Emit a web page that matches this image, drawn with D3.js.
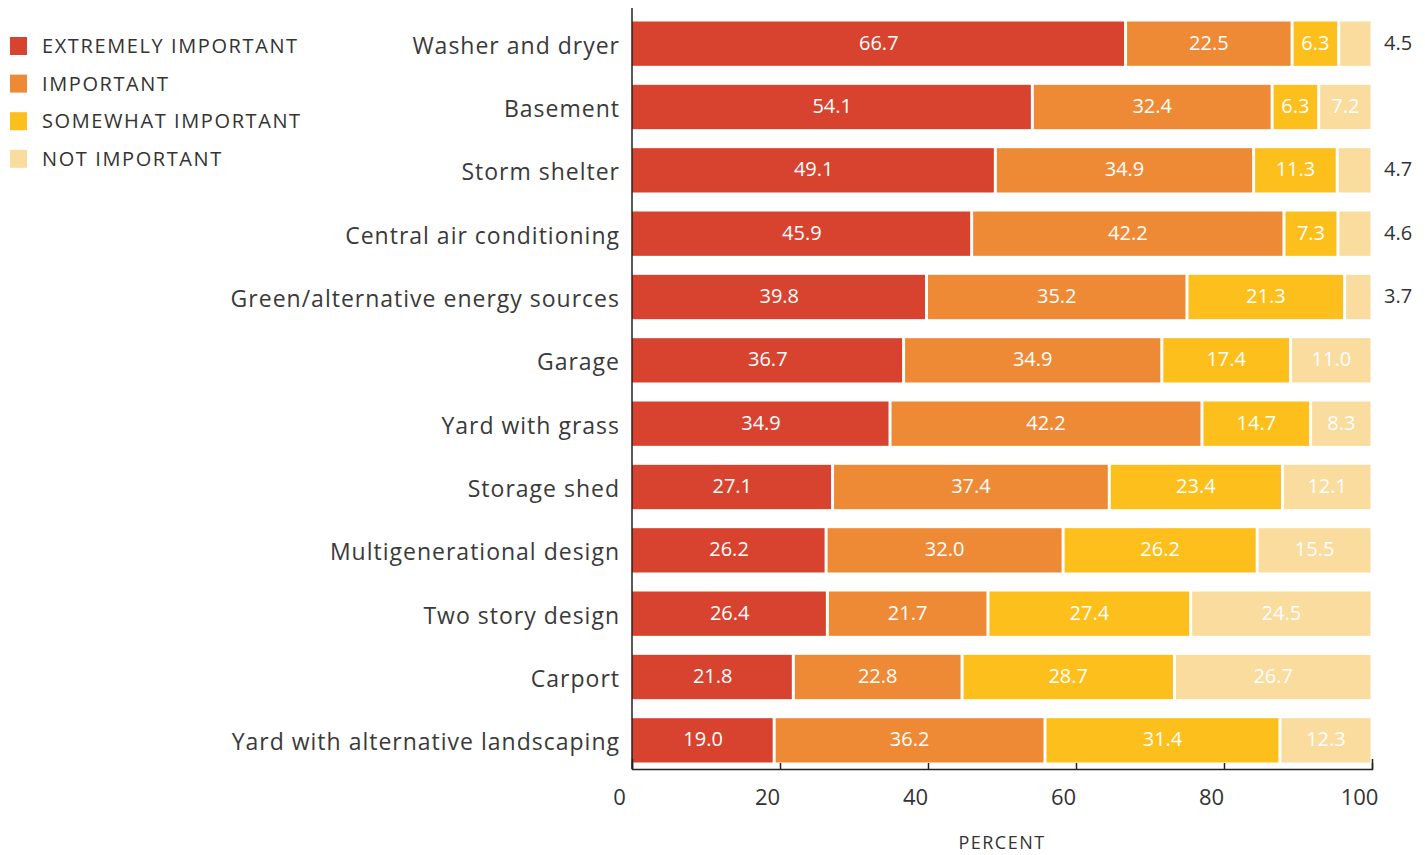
<!DOCTYPE html>
<html>
<head>
<meta charset="utf-8">
<script src="https://cdn.jsdelivr.net/npm/d3@7"></script>
<style>
  html, body { margin: 0; padding: 0; background: #ffffff; }
  svg { display: block; font-family: "Open Sans", "Noto Sans", sans-serif; }
</style>
</head>
<body>
<svg id="chart"></svg>
<script>
// ── data ────────────────────────────────────────────────────────────────────
const categories = [
  "Washer and dryer", "Basement", "Storm shelter", "Central air conditioning",
  "Green/alternative energy sources", "Garage", "Yard with grass", "Storage shed",
  "Multigenerational design", "Two story design", "Carport", "Yard with alternative landscaping"
];
const seriesNames = ["EXTREMELY IMPORTANT", "IMPORTANT", "SOMEWHAT IMPORTANT", "NOT IMPORTANT"];
const extremelyImportant = [66.7, 54.1, 49.1, 45.9, 39.8, 36.7, 34.9, 27.1, 26.2, 26.4, 21.8, 19.0];
const important          = [22.5, 32.4, 34.9, 42.2, 35.2, 34.9, 42.2, 37.4, 32.0, 21.7, 22.8, 36.2];
const somewhatImportant  = [6.3, 6.3, 11.3, 7.3, 21.3, 17.4, 14.7, 23.4, 26.2, 27.4, 28.7, 31.4];
const notImportant       = [4.5, 7.2, 4.7, 4.6, 3.7, 11.0, 8.3, 12.1, 15.5, 24.5, 26.7, 12.3];
const xTicks = [0, 20, 40, 60, 80, 100];
const seriesColors = ["#d8432f", "#ee8a35", "#fcbf1c", "#f9dc9e"];

// ── layout ──────────────────────────────────────────────────────────────────
const outerW = 1425, outerH = 855;
const plot = { left: 632, right: 1372, top: 12, bottom: 772 };
const axisY = 769;

const svg = d3.select("#chart").attr("width", outerW).attr("height", outerH);

// stack each row; rows that round to 99.9/100.1 are stretched to fill the bar
const seriesValues = [extremelyImportant, important, somewhatImportant, notImportant];
const rows = categories.map((c, i) => {
  const total = d3.sum(seriesValues, vals => vals[i]);
  const k = 100 / total;
  let acc = 0;
  const segs = seriesValues.map((vals, s) => {
    const seg = { cat: c, s, v: vals[i], x0: acc * k, x1: (acc + vals[i]) * k };
    acc += vals[i];
    return seg;
  });
  return { cat: c, segs };
});

const x = d3.scaleLinear().domain([0, 100]).range([plot.left, plot.right]);
const y = d3.scaleBand().domain(categories).range([plot.top, plot.bottom]).paddingInner(0.3).paddingOuter(0.15);
const isOutside = d => d.s === 3 && d.v < 5;

// bars (white gap between segments)
const gap = 3;
const rowG = svg.selectAll("g.row").data(rows).join("g").attr("class", "row");
rowG.selectAll("rect.seg").data(d => d.segs).join("rect").attr("class", "seg")
  .attr("x", d => x(d.x0) + (d.s > 0 ? gap / 2 : 0))
  .attr("y", d => y(d.cat))
  .attr("width", d => Math.max(0, x(d.x1) - x(d.x0) - (d.s > 0 ? gap : gap / 2)))
  .attr("height", y.bandwidth())
  .attr("fill", d => seriesColors[d.s]);

// value labels: inside in white, small "not important" outside in dark grey
rowG.selectAll("text.val").data(d => d.segs).join("text").attr("class", "val")
  .attr("x", d => isOutside(d) ? x(100) + 12 : x((d.x0 + d.x1) / 2))
  .attr("y", d => y(d.cat) + y.bandwidth() / 2 - 1)
  .attr("dy", "0.35em")
  .attr("text-anchor", d => isOutside(d) ? "start" : "middle")
  .attr("font-size", 20)
  .attr("fill", d => isOutside(d) ? "#333333" : "#ffffff")
  .text(d => d.v.toFixed(1));

// category labels
svg.selectAll("text.cat").data(categories).join("text").attr("class", "cat")
  .attr("x", plot.left - 12)
  .attr("y", d => y(d) + y.bandwidth() / 2 + 2)
  .attr("dy", "0.35em")
  .attr("text-anchor", "end")
  .attr("font-size", 23)
  .attr("fill", "#3a3a3a")
  .attr("letter-spacing", 1)
  .text(d => d);

// axes
svg.append("line").attr("x1", plot.left).attr("x2", plot.left).attr("y1", 8).attr("y2", axisY)
  .attr("stroke", "#222").attr("stroke-width", 1.5);
const xAxis = svg.append("g").attr("transform", `translate(0,${axisY})`)
  .call(d3.axisBottom(x).tickValues(xTicks).tickSize(-6).tickSizeOuter(-10).tickPadding(0).tickFormat(d3.format("d")));
xAxis.select(".domain").attr("stroke", "#222").attr("stroke-width", 1.5);
xAxis.selectAll(".tick line").attr("stroke", "#222").attr("stroke-width", 1.5);
xAxis.selectAll(".tick text")
  .attr("font-family", "\"Open Sans\", sans-serif").attr("font-size", 22).attr("fill", "#333")
  .attr("dx", -13).attr("y", 36).attr("dy", "0");

svg.append("text").attr("x", (plot.left + plot.right) / 2).attr("y", 849)
  .attr("text-anchor", "middle").attr("font-size", 18).attr("letter-spacing", 1.5).attr("fill", "#333")
  .text("PERCENT");

// legend
const legend = svg.append("g").attr("transform", "translate(10,46)");
seriesNames.forEach((name, i) => {
  const item = legend.append("g").attr("transform", `translate(0,${i * 37.6})`);
  item.append("rect").attr("x", 0).attr("y", -9).attr("width", 17).attr("height", 18).attr("fill", seriesColors[i]);
  item.append("text").attr("x", 32).attr("y", 0).attr("dy", "0.35em")
    .attr("font-size", 20).attr("letter-spacing", 1.6).attr("fill", "#333").text(name);
});
</script>
</body>
</html>
